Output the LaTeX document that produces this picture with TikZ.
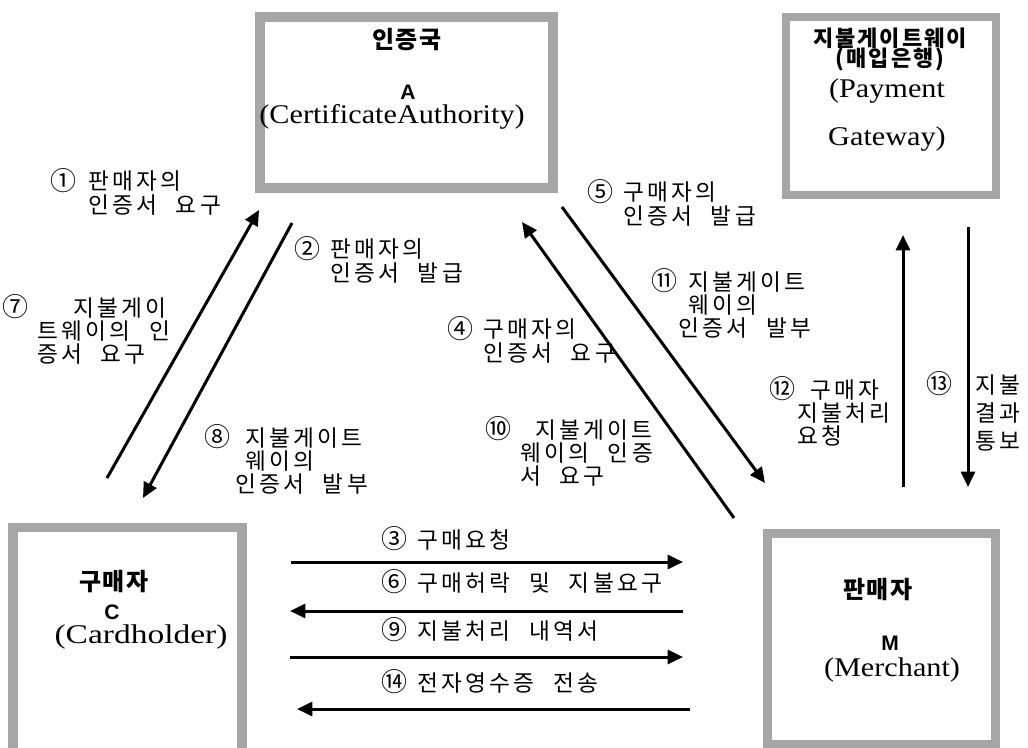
\documentclass[tikz,border=0pt]{standalone}
\usepackage{fontspec}
\usetikzlibrary{arrows.meta}

% fonts: Korean sans for labels and titles, a wide serif for the English names
\newfontfamily\krfont{Noto Sans CJK KR}[LetterSpace=15,WordSpace=2.2]
\newfontfamily\krbold{Noto Sans CJK KR}[LetterSpace=6]
\newfontfamily\krboldwide{Noto Sans CJK KR}[LetterSpace=9]
\newfontfamily\serfont{Liberation Serif}[FakeStretch=1.12]
\newfontfamily\serwide{Liberation Serif}[FakeStretch=1.24]
\newfontfamily\latbold{Liberation Sans}

\newlength\px
\setlength\px{0.75pt}

% circled step numbers, set a little larger than the label text
\newcommand\stepno[1]{\raisebox{-0.5pt}{\fontsize{19.5pt}{19.5pt}\selectfont #1}}

\definecolor{framegray}{HTML}{A6A6A6}

\tikzset{
  party/.style={draw=framegray, fill=white, inner sep=0pt, outer sep=0pt},
  msg/.style={font=\krfont\fontsize{17pt}{17.5pt}\selectfont, align=left,
              anchor=base west, inner sep=0pt, outer sep=0pt},
  ttl/.style={font=\krbold\bfseries\fontsize{18pt}{20pt}\selectfont,
              anchor=base, inner sep=0pt},
  ttlwide/.style={font=\krboldwide\bfseries\fontsize{16.5pt}{18pt}\selectfont,
              anchor=base, inner sep=0pt},
  initial/.style={font=\latbold\bfseries\fontsize{15.75pt}{18pt}\selectfont,
              anchor=base, inner sep=0pt},
  eng/.style={font=\serfont\fontsize{20.25pt}{22pt}\selectfont,
              anchor=base, inner sep=0pt},
  flow/.style={line width=2.25pt, -{Triangle[length=11.5pt,width=10.5pt]}}
}

\begin{document}
\begin{tikzpicture}[x=0.75pt,y=-0.75pt]
\fill[white] (0,0) rectangle (1028,747);
\useasboundingbox (0,0) rectangle (1028,747);

% ---- the four parties ----
\node[party, line width=7.5pt, minimum width=293\px, minimum height=171\px]
  (CA) at (406.5,102.5) {};
\node[party, line width=6pt, minimum width=210\px, minimum height=178\px]
  (PG) at (891,106) {};
\node[party, line width=7.1pt, minimum width=229\px, minimum height=232.5\px]
  (CH) at (127.5,643.75) {};
\node[party, line width=6.75pt, minimum width=228\px, minimum height=210.5\px]
  (MR) at (881.5,638.75) {};

% certificate authority
\node[ttl] (CAk) at (407,48) {인증국};
\node[initial] (CAl) at (408,99) {A};
\node[eng] (CAe) at (392,123) {(CertificateAuthority)};

% payment gateway
\node[ttlwide] (PGk) at (890,46) {지불게이트웨이};
\node[ttlwide] (PGk2) at (890,66) {(매입은행)};
\node[eng] (PGe1) at (887,97) {(Payment};
\node[eng] (PGe2) at (887,145) {Gateway)};

% cardholder
\node[ttl] (CHk) at (114,590) {구매자};
\node[initial] (CHl) at (112,619) {C};
\node[eng, font=\serwide\fontsize{20.25pt}{22pt}\selectfont] (CHe) at (141,643) {(Cardholder)};

% merchant
\node[ttl] (MRk) at (878,598) {판매자};
\node[initial] (MRl) at (890,650) {M};
\node[eng] (MRe) at (892,676) {(Merchant)};

% ---- connector end points ----
\coordinate (p1s) at (107,478);  \coordinate (p1e) at (259,210);
\coordinate (p2s) at (292,223);  \coordinate (p2e) at (143,498);
\coordinate (p4s) at (734,518);  \coordinate (p4e) at (522,222);
\coordinate (p5s) at (562,207);  \coordinate (p5e) at (765,483);
\coordinate (p12s) at (903,487); \coordinate (p12e) at (903,235);
\coordinate (p13s) at (968,227); \coordinate (p13e) at (968,487);
\coordinate (p3s) at (291,562);  \coordinate (p3e) at (683,562);
\coordinate (p6s) at (683,611);  \coordinate (p6e) at (290,611);
\coordinate (p9s) at (290,657);  \coordinate (p9e) at (683,657);
\coordinate (p14s) at (690,709); \coordinate (p14e) at (297,709);

\draw[flow] (p1s) -- (p1e);
\draw[flow] (p2s) -- (p2e);
\draw[flow] (p4s) -- (p4e);
\draw[flow] (p5s) -- (p5e);
\draw[flow] (p12s) -- (p12e);
\draw[flow] (p13s) -- (p13e);
\draw[flow] (p3s) -- (p3e);
\draw[flow] (p6s) -- (p6e);
\draw[flow] (p9s) -- (p9e);
\draw[flow] (p14s) -- (p14e);

% ---- message labels (anchored at the baseline of the last line) ----
\node[msg] (m1) at (88,213.3) {\llap{\stepno{①}\hspace{12\px}}판매자의\\인증서 요구};
\node[msg] (m2) at (330,281.3) {\llap{\stepno{②}\hspace{10\px}}판매자의\\인증서 발급};
\node[msg] (m7) at (37,362.7) {\llap{\stepno{⑦}\hspace{9\px}}\hspace{36\px}지불게이\\트웨이의 인\\증서 요구};
\node[msg] (m8) at (235,492.7) {\llap{\stepno{⑧}\hspace{5\px}}\hspace{10\px}지불게이트\\\hspace{10\px}웨이의\\인증서 발부};
\node[msg] (m5) at (623,224.3) {\llap{\stepno{⑤}\hspace{10\px}}구매자의\\인증서 발급};
\node[msg] (m11) at (678,336.7) {\llap{\stepno{⑪}\hspace{1\px}}\hspace{10\px}지불게이트\\\hspace{10\px}웨이의\\인증서 발부};
\node[msg] (m4) at (483,361.3) {\llap{\stepno{④}\hspace{10\px}}구매자의\\인증서 요구};
\node[msg] (m10) at (520,484.7) {\llap{\stepno{⑩}\hspace{9\px}}\hspace{15\px}지불게이트\\웨이의 인증\\서 요구};
\node[msg] (m12) at (797,444.7) {\llap{\stepno{⑫}\hspace{2\px}}\hspace{13\px}구매자\\지불처리\\요청};
\node[msg, font=\krfont\fontsize{17pt}{21pt}\selectfont] (m13) at (975,449)
  {\llap{\stepno{⑬}\hspace{23\px}}지불\\결과\\통보};
\node[msg] (m3) at (417,548) {\llap{\stepno{③}\hspace{10\px}}구매요청};
\node[msg] (m6) at (417,591) {\llap{\stepno{⑥}\hspace{10\px}}구매허락 및 지불요구};
\node[msg] (m9) at (417,639) {\llap{\stepno{⑨}\hspace{10\px}}지불처리 내역서};
\node[msg] (m14) at (417,691) {\llap{\stepno{⑭}\hspace{10\px}}전자영수증 전송};
\end{tikzpicture}
\end{document}
